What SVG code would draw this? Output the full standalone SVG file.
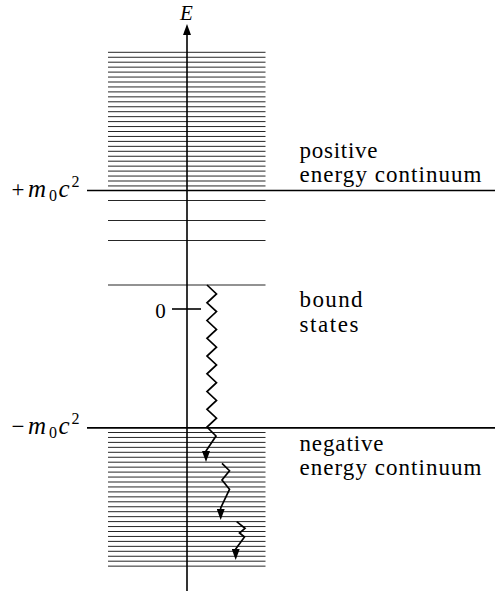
<svg xmlns="http://www.w3.org/2000/svg" width="495" height="592" viewBox="0 0 495 592">
<style>
.lvl{stroke:#1a1a1a;stroke-width:0.95;fill:none}
.thick{stroke:#000;stroke-width:1.7;fill:none}
.ax{stroke:#000;stroke-width:1.6;fill:none}
.wave{stroke:#000;stroke-width:1.7;fill:none;stroke-linejoin:miter}
</style>
<defs>
<marker id="ah" markerUnits="userSpaceOnUse" markerWidth="11" markerHeight="8" viewBox="0 0 11 8" refX="8" refY="4" orient="auto">
<path d="M0,0 L11,4 L0,8 Z" fill="#000"/>
</marker>
</defs>
<rect width="495" height="592" fill="#fff"/>
<g id="positive-continuum">
<path class="lvl" d="M108,52.3H265.5M108,57.25H265.5M108,62.2H265.5M108,67.15H265.5M108,72.1H265.5M108,77.05H265.5M108,82H265.5M108,86.95H265.5M108,91.9H265.5M108,96.85H265.5M108,101.8H265.5M108,106.75H265.5M108,111.7H265.5M108,116.65H265.5M108,121.6H265.5M108,126.55H265.5M108,131.5H265.5M108,136.45H265.5M108,141.4H265.5M108,146.35H265.5M108,151.3H265.5M108,156.25H265.5M108,161.2H265.5M108,166.15H265.5M108,171.1H265.5M108,176.05H265.5M108,181H265.5M108,185.95H265.5"/>
</g>
<g id="bound-states">
<path class="lvl" d="M108,200.5H265.5M108,220.5H265.5M108,240.5H265.5M108,285H265.5"/>
</g>
<g id="negative-continuum">
<path class="lvl" d="M108,432.5H265.5M108,437.45H265.5M108,442.4H265.5M108,447.35H265.5M108,452.3H265.5M108,457.25H265.5M108,462.2H265.5M108,467.15H265.5M108,472.1H265.5M108,477.05H265.5M108,482H265.5M108,486.95H265.5M108,491.9H265.5M108,496.85H265.5M108,501.8H265.5M108,506.75H265.5M108,511.7H265.5M108,516.65H265.5M108,521.6H265.5M108,526.55H265.5M108,531.5H265.5M108,536.45H265.5M108,541.4H265.5M108,546.35H265.5M108,551.3H265.5M108,556.25H265.5M108,561.2H265.5M108,566.15H265.5"/>
</g>
<g id="limits">
<path class="thick" d="M87,190.5H495"/>
<path class="thick" d="M87,427.8H495"/>
</g>
<g id="axis">
<path class="ax" d="M187,591V27" marker-end="url(#ah)"/>
<path class="ax" d="M172,309H201"/>
</g>
<g id="text" font-family="Liberation Serif, DejaVu Serif, serif" fill="#000">
<text x="186.5" y="20" font-size="21" font-style="italic" text-anchor="middle">E</text>
<text x="160.5" y="318" font-size="21" text-anchor="middle">0</text>
<g id="label-plus">
<text y="196.8"><tspan x="11.5" font-size="23">+</tspan><tspan x="28" font-size="25" font-style="italic">m</tspan><tspan x="49" dy="4" font-size="16">0</tspan><tspan x="58.5" dy="-4" font-size="25" font-style="italic">c</tspan><tspan x="71.5" dy="-10" font-size="16">2</tspan></text>
</g>
<g id="label-minus">
<text y="433.8"><tspan x="11.5" font-size="23">−</tspan><tspan x="28" font-size="25" font-style="italic">m</tspan><tspan x="49" dy="4" font-size="16">0</tspan><tspan x="58.5" dy="-4" font-size="25" font-style="italic">c</tspan><tspan x="71.5" dy="-10" font-size="16">2</tspan></text>
</g>
<g id="labels" font-size="23">
<text x="299.5" y="158" textLength="78" lengthAdjust="spacing">positive</text>
<text x="299.5" y="182.3" textLength="182" lengthAdjust="spacing">energy continuum</text>
<text x="299.5" y="306.7" textLength="63" lengthAdjust="spacing">bound</text>
<text x="299.5" y="331.5" textLength="59" lengthAdjust="spacing">states</text>
<text x="299.5" y="450.5" textLength="84" lengthAdjust="spacing">negative</text>
<text x="299.5" y="475" textLength="182" lengthAdjust="spacing">energy continuum</text>
</g>
</g>
<g id="connectors">
<path class="wave" d="M207,285L216.5,293.9L207,302.8L216.5,311.6L207,320.5L216.5,329.4L207,338.3L216.5,347.2L207,356.1L216.5,364.9L207,373.8L216.5,382.7L207,391.6L216.5,400.4L207,409.3L216.5,418.2L207,427.1L216,436L206,451L206,459" marker-end="url(#ah)"/>
<path class="wave" d="M222,463.3L229.5,470.7L222,480L229.5,489.3L220.7,508L220.7,517" marker-end="url(#ah)"/>
<path class="wave" d="M236.7,521.7L245,528.3L239.5,533L244.5,537L235.7,549L235.7,557" marker-end="url(#ah)"/>
</g>
</svg>
